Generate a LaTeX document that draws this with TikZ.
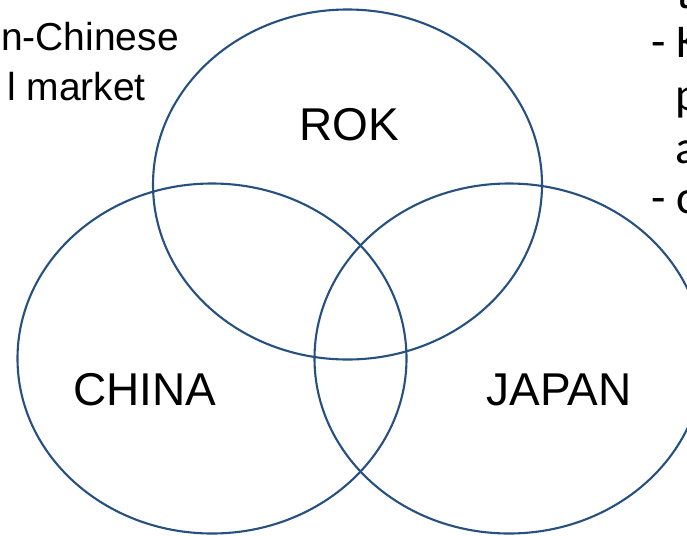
\documentclass[tikz,border=0pt]{standalone}
\usepackage{fontspec}
\setmainfont{Liberation Sans}
\newfontfamily\calib{Carlito}
\usetikzlibrary{shapes.geometric}
\definecolor{vennblue}{RGB}{38,80,128}
\tikzset{
  venn/.style={ellipse, draw=vennblue, line width=2.1pt, inner sep=0pt,
    minimum width=389pt, minimum height=350pt},
  biglabel/.style={inner sep=0pt, anchor=base, font=\fontsize{46}{46}\selectfont},
  sidetext/.style={inner sep=0pt, anchor=base east, font=\fontsize{39}{39}\selectfont},
  bullet/.style={inner sep=0pt, anchor=base west, font=\calib\fontsize{47}{47}\selectfont}
}
\begin{document}
\begin{tikzpicture}[x=1pt, y=-1pt]
\useasboundingbox (0,0) rectangle (687,535);
\fill[white] (0,0) rectangle (687,535);
\node[venn] (rok) at (347.5,184.5) {};
\node[venn] (china) at (212,358.5) {};
\node[venn] (japan) at (509,358.5) {};
\node[biglabel] (rokl) at (349.5,140) {ROK};
\node[biglabel] (chinal) at (145,405) {CHINA};
\node[biglabel] (japanl) at (559,405) {JAPAN};
\node[sidetext] (l1) at (179,50) {n-Chinese};
\node[sidetext] (l2) at (146,100) {l market};
\node[bullet] (r0) at (676,9) {t};
\node[bullet] (r1) at (651,58) {- K};
\node[bullet] (r2) at (675,110) {p};
\node[bullet] (r3) at (675,163) {a};
\node[bullet] (r4) at (651,213) {- c};
\end{tikzpicture}
\end{document}
